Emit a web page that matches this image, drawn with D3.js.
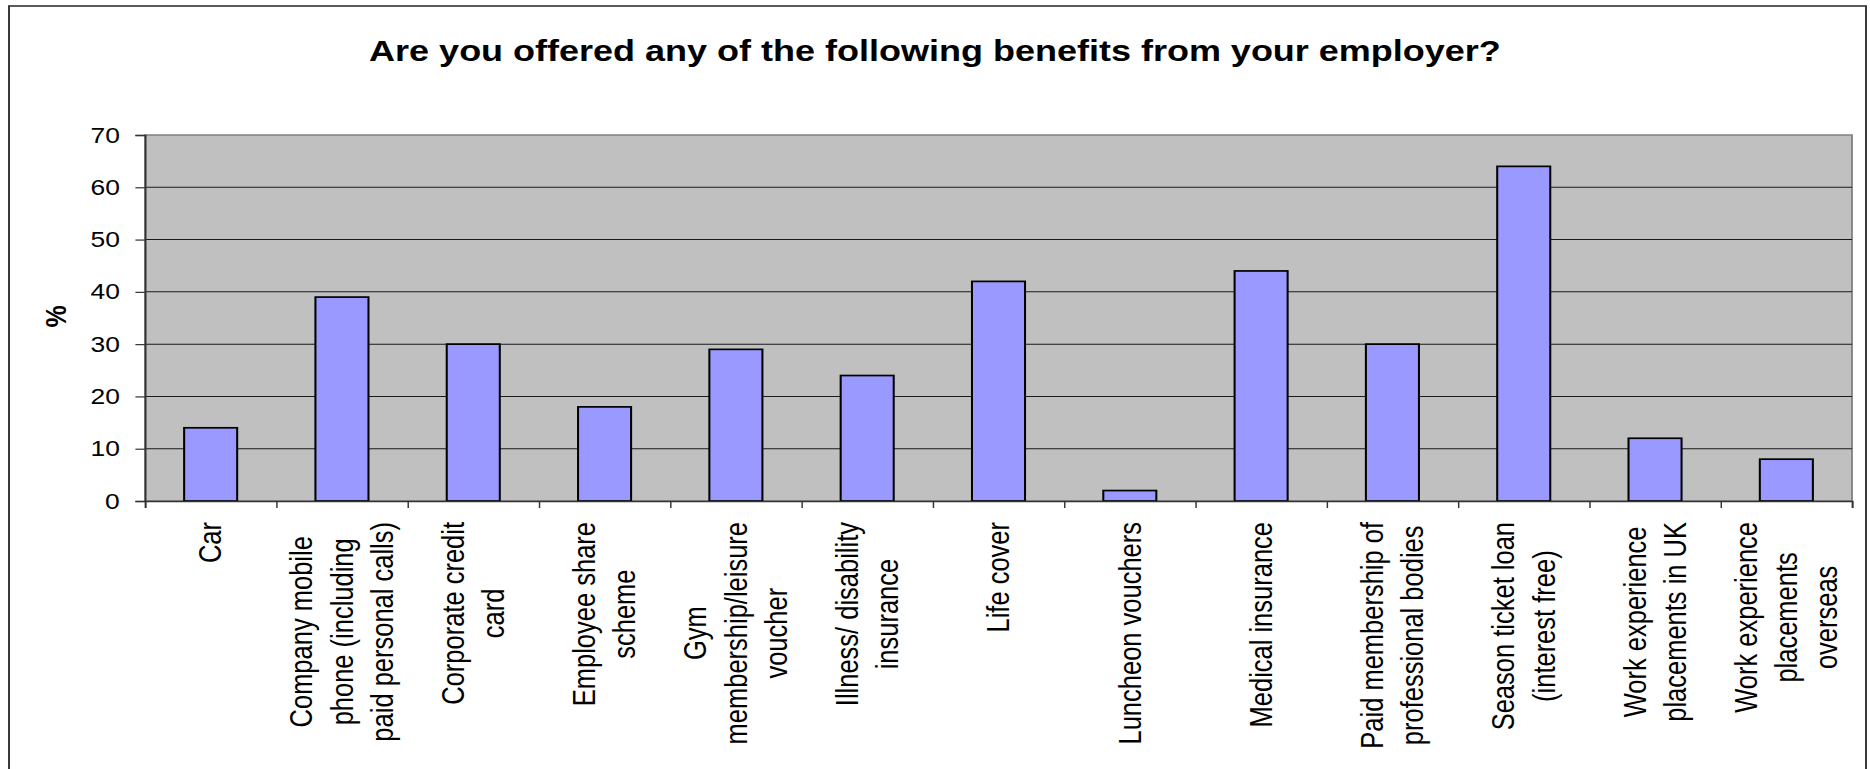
<!DOCTYPE html>
<html>
<head>
<meta charset="utf-8">
<script src="https://cdn.jsdelivr.net/npm/d3@7"></script>
<style>
  html, body { margin: 0; padding: 0; background: #ffffff; overflow: hidden; }
  svg { display: block; }
</style>
</head>
<body>
<svg id="chart"></svg>
<script>
// ---------------- DATA ----------------
const chartTitle = "Are you offered any of the following benefits from your employer?";
const yAxisLabel = "%";
const categoryLines = [
  ["Car"],
  ["Company mobile", "phone (including", "paid personal calls)"],
  ["Corporate credit", "card"],
  ["Employee share", "scheme"],
  ["Gym", "membership/leisure", "voucher"],
  ["Illness/ disability", "insurance"],
  ["Life cover"],
  ["Luncheon vouchers"],
  ["Medical insurance"],
  ["Paid membership of", "professional bodies"],
  ["Season ticket loan", "(interest free)"],
  ["Work experience", "placements in UK"],
  ["Work experience", "placements", "overseas"]
];
const values = [14, 39, 30, 18, 29, 24, 42, 2, 44, 30, 64, 12, 8];
const yTicks = [0, 10, 20, 30, 40, 50, 60, 70];

// ---------------- LAYOUT ----------------
const WIDTH = 1870, HEIGHT = 769;
const SX = 1.2;                 // the reference is horizontally stretched
const VW = WIDTH / SX;
const px = v => v / SX;         // full-pixel x -> viewBox x
const FONT = "'Liberation Sans', Arial, Helvetica, sans-serif";

const plot = { left: px(145), right: px(1852), top: 135, bottom: 501 };

const svg = d3.select("#chart")
  .attr("width", WIDTH)
  .attr("height", HEIGHT)
  .attr("viewBox", `0 0 ${VW} ${HEIGHT}`)
  .attr("preserveAspectRatio", "none");

// outer chart border
svg.append("rect")
  .attr("x", px(9)).attr("y", 6)
  .attr("width", px(1866) - px(9)).attr("height", 800)
  .attr("fill", "#ffffff")
  .attr("stroke", "#333333").attr("stroke-width", 1.6);

// title
svg.append("text")
  .attr("x", VW / 2).attr("y", 61)
  .attr("text-anchor", "middle")
  .style("font-family", FONT).style("font-weight", "bold").style("font-size", "30px")
  .attr("fill", "#000")
  .text(chartTitle);

// scales
const idx = d3.range(categoryLines.length);
const x = d3.scaleBand().domain(idx).range([plot.left, plot.right])
  .paddingInner(0.596).paddingOuter(0.298);
const xEdge = d3.scaleLinear().domain([0, categoryLines.length]).range([plot.left, plot.right]);
const y = d3.scaleLinear().domain([0, 70]).range([plot.bottom, plot.top]);

// plot background
svg.append("rect")
  .attr("x", plot.left).attr("y", plot.top)
  .attr("width", plot.right - plot.left).attr("height", plot.bottom - plot.top)
  .attr("fill", "#c0c0c0")
  .attr("stroke", "#808080").attr("stroke-width", 1.5);

// gridlines
svg.append("g").selectAll("line")
  .data(yTicks.filter(t => t > 0 && t < 70))
  .join("line")
  .attr("x1", plot.left).attr("x2", plot.right)
  .attr("y1", d => y(d)).attr("y2", d => y(d))
  .attr("stroke", "#1a1a1a").attr("stroke-width", 1);

// bars
svg.append("g").selectAll("rect")
  .data(values)
  .join("rect")
  .attr("x", (d, i) => x(i))
  .attr("width", x.bandwidth())
  .attr("y", d => y(d))
  .attr("height", d => y(0) - y(d))
  .attr("fill", "#9999ff")
  .attr("stroke", "#000").attr("stroke-width", 1.7);

// y axis
const yAxis = svg.append("g")
  .attr("transform", `translate(${plot.left},0)`)
  .call(d3.axisLeft(y).tickValues(yTicks).tickSize(8).tickPadding(13).tickFormat(d3.format("d")));
yAxis.select(".domain").attr("stroke", "#333").attr("stroke-width", 1.5);
yAxis.selectAll(".tick line").attr("stroke", "#333").attr("stroke-width", 1.2);
yAxis.selectAll(".tick text")
  .style("font-family", FONT).style("font-size", "22px").attr("fill", "#000");

// x axis (category boundaries)
const xAxis = svg.append("g")
  .attr("transform", `translate(0,${plot.bottom})`)
  .call(d3.axisBottom(xEdge).tickValues(d3.range(categoryLines.length + 1)).tickSize(7).tickFormat(""));
xAxis.select(".domain").attr("stroke", "#333").attr("stroke-width", 1.5);
xAxis.selectAll(".tick line").attr("stroke", "#333").attr("stroke-width", 1.2);

// y axis title
svg.append("text")
  .attr("transform", `translate(${px(55)},316.5) rotate(-90)`)
  .attr("text-anchor", "middle").attr("dy", "0.35em")
  .style("font-family", FONT).style("font-weight", "bold").style("font-size", "25px")
  .attr("fill", "#000")
  .text(yAxisLabel);

// category labels (rotated, multi-line, centred)
const LABEL_TOP = 522, LINE_H = 33.5;
categoryLines.forEach((lines, i) => {
  const g = svg.append("g");
  const t = g.append("text")
    .attr("text-anchor", "middle")
    .style("font-family", FONT).style("font-size", "25.5px")
    .attr("fill", "#000");
  const n = lines.length;
  lines.forEach((ln, j) => {
    t.append("tspan")
      .attr("x", 0)
      .attr("y", (j - (n - 1) / 2) * LINE_H)
      .attr("dy", "0.35em")
      .text(ln);
  });
  let maxLen = 0;
  t.selectAll("tspan").each(function () { maxLen = Math.max(maxLen, this.getComputedTextLength()); });
  const cx = x(i) + x.bandwidth() / 2;
  g.attr("transform", `translate(${cx},${LABEL_TOP + maxLen / 2}) rotate(-90)`);
});
</script>
</body>
</html>
